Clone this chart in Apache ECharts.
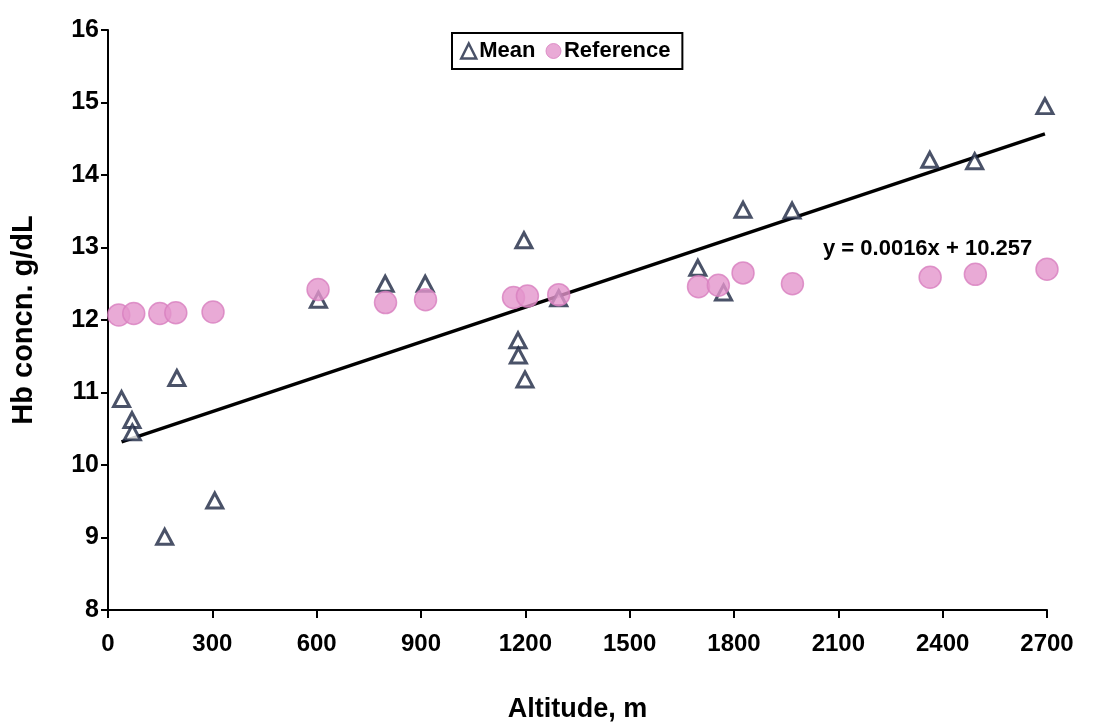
<!DOCTYPE html>
<html>
<head>
<meta charset="utf-8">
<script src="https://cdn.jsdelivr.net/npm/echarts@6/dist/echarts.min.js"></script>
<style>
html,body{margin:0;padding:0;background:#fff;}
#chart{width:1096px;height:724px;}
</style>
</head>
<body>
<div id="chart"></div>
<script>
// Altitude (m) and mean Hb (g/dL)
const meanAltitude = [39, 69, 70, 163, 198, 307, 605, 797, 912, 1179, 1180, 1196, 1199, 1296, 1696, 1770, 1826, 1967, 2363, 2492, 2694];
const meanHb       = [10.91, 10.62, 10.45, 9.01, 11.20, 9.51, 12.28, 12.50, 12.50, 11.72, 11.51, 13.10, 11.18, 12.30, 12.72, 12.38, 13.52, 13.51, 14.21, 14.19, 14.95];
// Reference Hb cut-offs
const refAltitude  = [31, 74, 149, 195, 302, 604, 798, 913, 1166, 1206, 1296, 1698, 1755, 1826, 1968, 2364, 2494, 2700];
const refHb        = [12.07, 12.09, 12.09, 12.10, 12.11, 12.42, 12.24, 12.28, 12.31, 12.33, 12.35, 12.46, 12.48, 12.65, 12.50, 12.59, 12.63, 12.70];
// Trendline coefficients (as printed)
const slope = 0.0016;
const intercept = 10.257;
const equationText = 'y = 0.0016x + 10.257';
const xTicks = [0, 300, 600, 900, 1200, 1500, 1800, 2100, 2400, 2700];
const yTicks = [8, 9, 10, 11, 12, 13, 14, 15, 16];

const meanData = meanAltitude.map((a, i) => [a, meanHb[i]]);
const refData = refAltitude.map((a, i) => [a, refHb[i]]);
const xMin = Math.min(...meanAltitude), xMax = Math.max(...meanAltitude);
const trendData = [[xMin, intercept + slope * xMin], [xMax, intercept + slope * xMax]];

const FONT = '"Liberation Sans", Arial, sans-serif';
const chart = echarts.init(document.getElementById('chart'), null, {renderer: 'canvas'});
chart.setOption({
  animation: false,
  backgroundColor: '#ffffff',
  grid: {left: 108, right: 49, top: 30, bottom: 114, containLabel: false, outerBoundsMode: 'none'},
  xAxis: {
    type: 'value', min: xTicks[0], max: xTicks[xTicks.length - 1], interval: 300,
    name: 'Altitude, m', nameLocation: 'middle', nameGap: 86,
    nameTextStyle: {fontFamily: FONT, fontWeight: 'bold', fontSize: 27, color: '#000'},
    axisLine: {lineStyle: {color: '#000', width: 2}},
    axisTick: {show: true, length: 8, lineStyle: {color: '#000', width: 2}},
    axisLabel: {fontFamily: FONT, fontWeight: 'bold', fontSize: 24, color: '#000', margin: 22,
                formatter: v => String(v)},
    splitLine: {show: false}
  },
  yAxis: {
    type: 'value', min: yTicks[0], max: yTicks[yTicks.length - 1], interval: 1,
    name: 'Hb concn. g/dL', nameLocation: 'middle', nameGap: 70, nameRotate: 90,
    nameTextStyle: {fontFamily: FONT, fontWeight: 'bold', fontSize: 29, color: '#000'},
    axisLine: {show: true, lineStyle: {color: '#000', width: 2}},
    axisTick: {show: true, length: 7, lineStyle: {color: '#000', width: 2}},
    axisLabel: {fontFamily: FONT, fontWeight: 'bold', fontSize: 25, color: '#000', margin: 9,
                formatter: v => String(v)},
    splitLine: {show: false}
  },
  legend: {
    top: 33, left: 452,
    orient: 'horizontal',
    borderColor: '#000', borderWidth: 2,
    padding: [7, 12, 7, 8],
    itemGap: 10, itemWidth: 15, itemHeight: 15,
    textStyle: {fontFamily: FONT, fontWeight: 'bold', fontSize: 22, color: '#000', padding: [0, 0, 0, -2]},
    data: [
      {name: 'Mean', icon: 'triangle', itemStyle: {color: '#fff', borderColor: '#1d2742', borderWidth: 2.5}},
      {name: 'Reference', icon: 'circle', itemStyle: {color: '#e495cc', borderColor: '#d880bf', borderWidth: 1}}
    ]
  },
  series: [
    {
      name: 'Trend', type: 'line', data: trendData, showSymbol: false, symbol: 'none',
      lineStyle: {color: '#000', width: 3.5}, silent: true, z: 1
    },
    {
      name: 'Mean', type: 'scatter', data: meanData, symbol: 'triangle', symbolSize: [16, 15],
      itemStyle: {color: '#ffffff', borderColor: '#1d2742', borderWidth: 3}, z: 2
    },
    {
      name: 'Reference', type: 'scatter', data: refData, symbol: 'circle', symbolSize: 22,
      itemStyle: {color: '#e495cc', borderColor: '#d880bf', borderWidth: 1.5}, z: 3
    }
  ],
  graphic: [
    {type: 'text', left: 823, top: 238,
     style: {text: equationText, fontFamily: FONT, fontWeight: 'bold', fontSize: 22, fill: '#000'}}
  ]
});
</script>
</body>
</html>
